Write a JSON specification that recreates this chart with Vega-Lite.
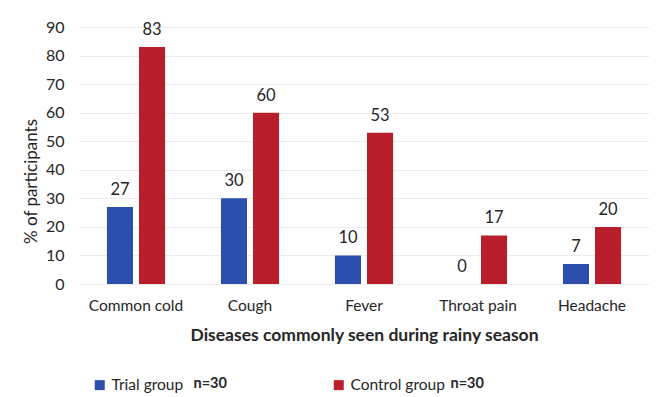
{
  "$schema": "https://vega.github.io/schema/vega-lite/v6.json",
  "width": 570,
  "height": 257,
  "autosize": {"type": "none"},
  "padding": {"left": 79, "top": 27, "right": 10, "bottom": 113},
  "background": "white",
  "config": {
    "font": "Lato",
    "view": {"stroke": null},
    "axis": {"labelColor": "#262626", "titleColor": "#262626", "labelFont": "Lato", "titleFont": "Lato"},
    "legend": {"labelFont": "Lato", "labelColor": "#262626"}
  },
  "data": {
    "values": [
      {"disease": "Common cold", "group": "Trial group", "sample": "Trial group, n=30", "pct": 27},
      {"disease": "Common cold", "group": "Control group", "sample": "Control group, n=30", "pct": 83},
      {"disease": "Cough", "group": "Trial group", "sample": "Trial group, n=30", "pct": 30},
      {"disease": "Cough", "group": "Control group", "sample": "Control group, n=30", "pct": 60},
      {"disease": "Fever", "group": "Trial group", "sample": "Trial group, n=30", "pct": 10},
      {"disease": "Fever", "group": "Control group", "sample": "Control group, n=30", "pct": 53},
      {"disease": "Throat pain", "group": "Trial group", "sample": "Trial group, n=30", "pct": 0},
      {"disease": "Throat pain", "group": "Control group", "sample": "Control group, n=30", "pct": 17},
      {"disease": "Headache", "group": "Trial group", "sample": "Trial group, n=30", "pct": 7},
      {"disease": "Headache", "group": "Control group", "sample": "Control group, n=30", "pct": 20}
    ]
  },
  "encoding": {
    "x": {
      "field": "disease",
      "type": "nominal",
      "sort": ["Common cold", "Cough", "Fever", "Throat pain", "Headache"],
      "scale": {"paddingInner": 0.49, "paddingOuter": 0.245},
      "axis": {
        "title": "Diseases commonly seen during rainy season",
        "labelAngle": 0,
        "labelFontSize": 15.5,
        "labelPadding": 14,
        "ticks": false,
        "domain": false,
        "titleFontSize": 17.5,
        "titleFontWeight": "bold",
        "titlePadding": 13
      }
    },
    "xOffset": {
      "field": "group",
      "type": "nominal",
      "sort": ["Trial group", "Control group"],
      "scale": {"paddingInner": 0.1875, "paddingOuter": 0}
    },
    "y": {
      "field": "pct",
      "type": "quantitative",
      "scale": {"domain": [0, 90], "nice": false},
      "axis": {
        "title": "% of participants",
        "values": [0, 10, 20, 30, 40, 50, 60, 70, 80, 90],
        "labelFontSize": 16,
        "labelPadding": 15,
        "ticks": false,
        "domain": false,
        "gridColor": "#ececec",
        "gridWidth": 1,
        "titleFontSize": 17,
        "titleFontWeight": "normal",
        "titleX": -48,
        "titleY": 154,
        "titleAngle": -90,
        "titleAlign": "center",
        "titleBaseline": "middle"
      }
    }
  },
  "layer": [
    {
      "mark": {"type": "bar", "strokeWidth": 0},
      "encoding": {
        "color": {
          "field": "group",
          "type": "nominal",
          "scale": {"domain": ["Trial group", "Control group"], "range": ["#2c4fae", "#b91f2a"]},
          "legend": {
            "title": null,
            "orient": "none",
            "direction": "horizontal",
            "legendX": 13,
            "legendY": 350,
            "symbolType": "square",
            "symbolSize": 100,
            "symbolStrokeWidth": 0,
            "labelFontSize": 15.5,
            "labelOffset": 4,
            "columnPadding": 147
          }
        },
        "strokeDash": {
          "field": "sample",
          "type": "nominal",
          "scale": {"domain": ["Trial group, n=30", "Control group, n=30"], "range": [[1, 0], [1, 0]]},
          "legend": {
            "title": null,
            "orient": "none",
            "direction": "horizontal",
            "legendX": 100,
            "legendY": 350,
            "symbolSize": 1,
            "symbolOpacity": 0,
            "symbolStrokeWidth": 0,
            "labelOffset": 0,
            "labelFontSize": 14.5,
            "labelFontWeight": "bold",
            "labelExpr": "split(datum.label, ', ')[1]",
            "columnPadding": 209
          }
        }
      }
    },
    {
      "mark": {"type": "text", "baseline": "alphabetic", "dy": -12, "fontSize": 16.5, "color": "#262626"},
      "encoding": {
        "text": {"field": "pct", "type": "quantitative"}
      }
    }
  ]
}
